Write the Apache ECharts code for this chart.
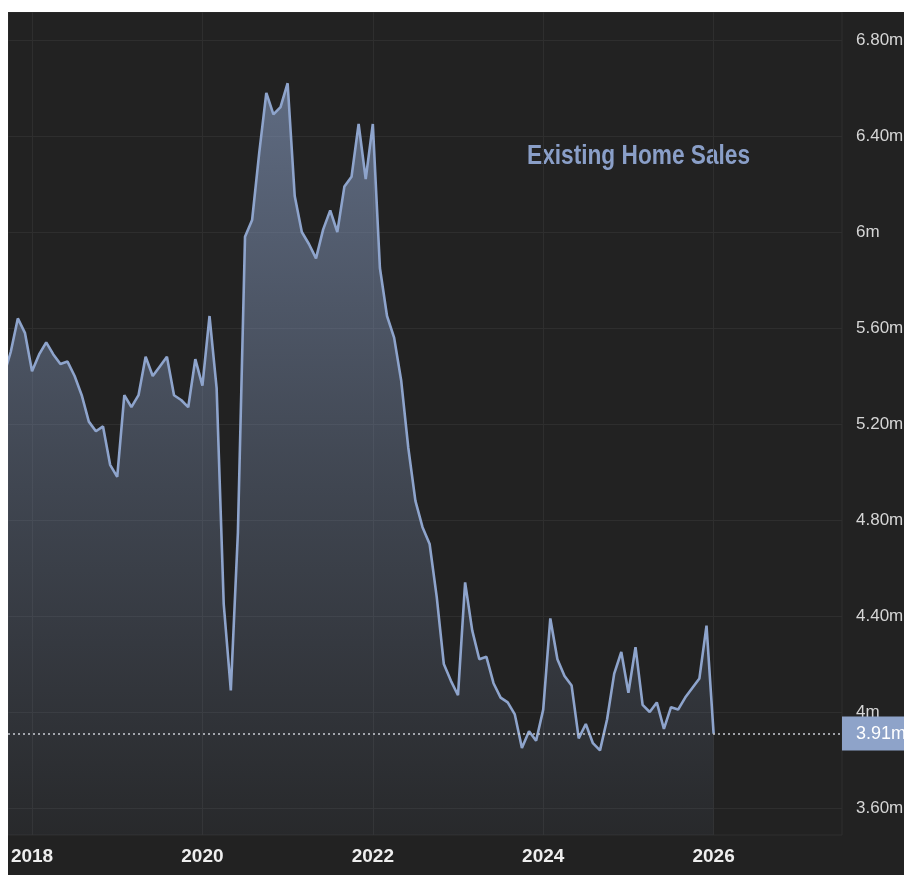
<!DOCTYPE html>
<html>
<head>
<meta charset="utf-8">
<script src="https://cdn.jsdelivr.net/npm/echarts@6/dist/echarts.min.js"></script>
<style>
  html, body { margin: 0; padding: 0; background: #ffffff; }
  #chart { position: absolute; left: 8px; top: 12px; width: 896px; height: 863px; }
</style>
</head>
<body>
<div id="chart"></div>
<script>
// Existing home sales, millions (SAAR), monthly from Sep 2017 to Jan 2026
const startYear = 2017;
const startMonth = 9;
const sales = [
  5.40, 5.50, 5.64, 5.58,
  5.42, 5.49, 5.54, 5.49, 5.45, 5.46, 5.40, 5.32, 5.21, 5.17, 5.19, 5.03,
  4.98, 5.32, 5.27, 5.32, 5.48, 5.40, 5.44, 5.48, 5.32, 5.30, 5.27, 5.47,
  5.36, 5.65, 5.35, 4.45, 4.09, 4.75, 5.98, 6.05, 6.33, 6.58, 6.49, 6.52,
  6.62, 6.15, 6.00, 5.95, 5.89, 6.01, 6.09, 6.00, 6.19, 6.23, 6.45, 6.22,
  6.45, 5.85, 5.65, 5.56, 5.38, 5.10, 4.88, 4.77, 4.70, 4.48, 4.20, 4.13,
  4.07, 4.54, 4.34, 4.22, 4.23, 4.12, 4.06, 4.04, 3.99, 3.85, 3.92, 3.88,
  4.01, 4.39, 4.22, 4.15, 4.11, 3.89, 3.95, 3.87, 3.84, 3.97, 4.16, 4.25,
  4.08, 4.27, 4.03, 4.00, 4.04, 3.93, 4.02, 4.01, 4.06, 4.10, 4.14, 4.36,
  3.91
];
const yearTicks = [2018, 2020, 2022, 2024, 2026];
const valueTicks = [3.6, 4.0, 4.4, 4.8, 5.2, 5.6, 6.0, 6.4, 6.8];
const latestValue = 3.91;
const titleText = 'Existing Home Sales';

const points = sales.map((v, i) => {
  const m = startMonth - 1 + i;
  return [startYear + m / 12, v];
});

const fontFam = "'Liberation Sans', Arial, sans-serif";

function fmtVal(v) {
  const r = Math.round(v * 100) / 100;
  if (Math.abs(r - Math.round(r)) < 1e-9) return Math.round(r) + 'm';
  return r.toFixed(2) + 'm';
}

const chart = echarts.init(document.getElementById('chart'), null, { renderer: 'canvas' });
chart.setOption({
  backgroundColor: '#222222',
  animation: false,
  graphic: [{
    type: 'text',
    left: 519,
    top: 131,
    scaleX: 0.84,
    style: {
      text: titleText,
      fill: '#8a9fc8',
      font: 'bold 27px ' + fontFam
    }
  }],
  grid: {
    left: 0, top: 0, right: 62, bottom: 40,
    outerBoundsMode: 'none',
    containLabel: false,
    show: true, borderColor: '#2e2e2e', borderWidth: 1, backgroundColor: 'transparent'
  },
  xAxis: {
    type: 'value',
    min: 2017.718,
    max: 2027.507,
    axisLine: { show: false },
    axisTick: { show: false, customValues: yearTicks },
    splitLine: { show: true, lineStyle: { color: '#2e2e2e', width: 1 } },
    axisLabel: {
      customValues: yearTicks,
      formatter: v => String(Math.round(v)),
      color: '#eeeeee',
      fontSize: 19,
      fontWeight: 'bold',
      fontFamily: fontFam,
      margin: 12
    }
  },
  yAxis: {
    type: 'value',
    position: 'right',
    min: 3.4875,
    max: 6.9167,
    axisLine: { show: false },
    axisTick: { show: false, customValues: valueTicks },
    splitLine: { show: true, lineStyle: { color: '#2e2e2e', width: 1 } },
    axisLabel: {
      customValues: valueTicks,
      formatter: fmtVal,
      color: '#d6d6d6',
      fontSize: 17,
      fontFamily: fontFam,
      margin: 14,
      align: 'left'
    }
  },
  series: [{
    type: 'line',
    data: points,
    showSymbol: false,
    symbol: 'none',
    lineStyle: { color: '#8ea4cc', width: 2.6 },
    areaStyle: {
      origin: 'start',
      color: new echarts.graphic.LinearGradient(0, 0, 0, 1, [
        { offset: 0, color: 'rgba(142,164,204,0.80)' },
        { offset: 0.5, color: 'rgba(142,164,204,0.42)' },
        { offset: 1, color: 'rgba(142,164,204,0.08)' }
      ])
    },
    markLine: {
      silent: true,
      symbol: ['none', 'none'],
      data: [{ yAxis: latestValue }],
      lineStyle: { color: '#c9ccd4', type: [2, 3], width: 1.5 },
      label: {
        show: true,
        position: 'end',
        distance: 0,
        formatter: () => fmtVal(latestValue),
        color: '#ffffff',
        backgroundColor: '#8ea3c9',
        fontSize: 18,
        fontFamily: fontFam,
        padding: [6, 8, 6, 14],
        lineHeight: 22
      }
    }
  }]
});
</script>
</body>
</html>
